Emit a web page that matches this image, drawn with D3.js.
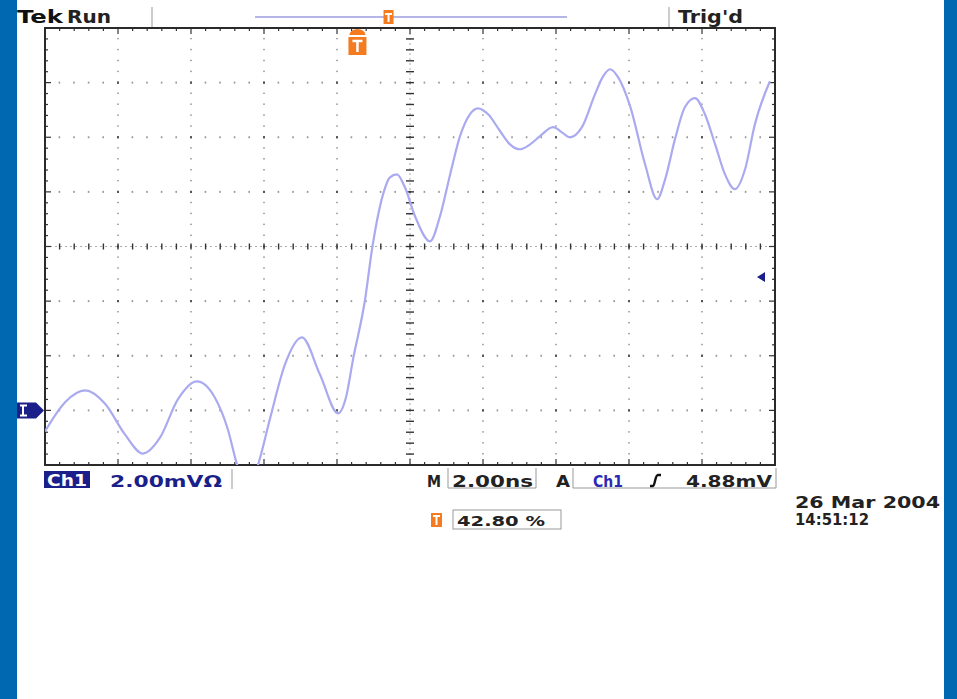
<!DOCTYPE html>
<html>
<head>
<meta charset="utf-8">
<script src="https://cdn.jsdelivr.net/npm/d3@7"></script>
<style>
  html, body { margin: 0; padding: 0; background: #fff; }
  svg { display: block; }
  text { font-family: "DejaVu Sans", Verdana, sans-serif; font-weight: bold; }
</style>
</head>
<body>
<svg id="scope" width="957" height="699"></svg>
<script>
// ---- Ch1 acquisition: time (ns from left edge of screen) and voltage (mV)
const timeNs = [0, 0.55, 1.10, 1.64, 2.19, 2.68, 3.15, 3.64, 4.16, 4.66, 5.01, 5.26, 5.55, 5.84,
  6.16, 6.58, 7.04, 7.53, 8.03, 8.25, 8.44, 8.77, 8.96, 9.26, 9.45, 9.64, 9.86, 10.14, 10.55,
  10.82, 11.10, 11.37, 11.64, 11.86, 12.14, 12.47, 12.74, 13.01, 13.29, 13.56, 13.92, 14.19,
  14.38, 14.71, 15.07, 15.29, 15.48, 15.70, 16.03, 16.44, 16.77, 16.99, 17.26, 17.53, 17.81,
  18.08, 18.36, 18.63, 18.90, 19.18, 19.45, 19.86];
const ch1mV = [-0.77, 0.30, 0.73, 0.25, -0.88, -1.58, -1.00, 0.40, 1.06, 0.45, -0.70, -1.98, -2.9, -1.98,
  -0.33, 1.70, 2.67, 1.32, -0.11, 0.50, 1.87, 4.07, 5.90, 7.90, 8.53, 8.64, 8.17, 7.10, 6.19,
  7.10, 8.64, 10.04, 10.84, 11.06, 10.84, 10.22, 9.74, 9.56, 9.74, 10.04, 10.37, 10.15,
  10.0, 10.37, 11.58, 12.23, 12.49, 12.20, 11.14, 9.01, 7.73, 8.46, 9.93, 11.10, 11.43,
  10.84, 9.74, 8.64, 8.10, 8.83, 10.48, 12.05];

// ---- Settings
const timeDomain = [0, 20];     // 10 div x 2.00 ns
const voltDomain = [-2, 14];    // 8 div x 2.00 mV, ground one div above bottom
const hDivs = 10, vDivs = 8, subDivs = 5;
const triggerLevelmV = 4.88;
const triggerPosPct = 42.80;

// ---- Readout texts
const headerLabels = ["Tek", "Run", "Trig'd"];
const chLabel = "Ch1";
const voltsPerDiv = "2.00mV\u03A9";
const timePerDiv = "2.00ns";
const trigLevelText = "4.88mV";
const trigPosText = "42.80 %";
const dateLines = ["26 Mar 2004", "14:51:12"];

const svg = d3.select("#scope");
const NAVY = "#1b1f8a", ORANGE = "#f47b20", FRAME_BLUE = "#0067b1";
const TRACE = "#aaaaf0";

// side bands
svg.append("rect").attr("x", 0).attr("y", 0).attr("width", 17).attr("height", 699).attr("fill", FRAME_BLUE);
svg.append("rect").attr("x", 944).attr("y", 0).attr("width", 13).attr("height", 699).attr("fill", FRAME_BLUE);

// screen geometry
const L = 45, R = 775, T = 28, B = 465;
const x = d3.scaleLinear().domain(timeDomain).range([L, R]);
const y = d3.scaleLinear().domain(voltDomain).range([B, T]);
const divW = (R - L) / hDivs, divH = (B - T) / vDivs;
const cx = L + divW * hDivs / 2, cy = T + divH * vDivs / 2;

const grid = svg.append("g");

// dotted graticule
for (let i = 1; i < hDivs; i++) {
  if (i === hDivs / 2) continue;
  const gx = L + i * divW;
  for (let k = 1; k < vDivs * subDivs; k++) {
    const gy = T + k * divH / subDivs;
    const major = k % subDivs === 0;
    grid.append("rect").attr("x", gx - 1).attr("y", gy - 1)
      .attr("width", 2).attr("height", major ? 2 : 1.4)
      .attr("fill", major ? "#555" : "#aaa");
  }
}
for (let j = 1; j < vDivs; j++) {
  if (j === vDivs / 2) continue;
  const gy = T + j * divH;
  for (let k = 1; k < hDivs * subDivs; k++) {
    const gx = L + k * divW / subDivs;
    const major = k % subDivs === 0;
    grid.append("rect").attr("x", gx - 1).attr("y", gy - 1)
      .attr("width", major ? 2 : 1.6).attr("height", 2)
      .attr("fill", major ? "#555" : "#999");
  }
}

// center crosshair with ticks
grid.append("line").attr("x1", cx).attr("x2", cx).attr("y1", T).attr("y2", B)
  .attr("stroke", "#aaa").attr("stroke-width", 1).attr("stroke-dasharray", "2,3");
grid.append("line").attr("x1", L).attr("x2", R).attr("y1", cy).attr("y2", cy)
  .attr("stroke", "#aaa").attr("stroke-width", 1).attr("stroke-dasharray", "2,3");
for (let k = 1; k < vDivs * subDivs; k++) {
  const gy = T + k * divH / subDivs;
  grid.append("line").attr("x1", cx - 4).attr("x2", cx + 4).attr("y1", gy).attr("y2", gy)
    .attr("stroke", "#333").attr("stroke-width", 1.4);
}
for (let k = 1; k < hDivs * subDivs; k++) {
  const gx = L + k * divW / subDivs;
  grid.append("line").attr("x1", gx).attr("x2", gx).attr("y1", cy - 3).attr("y2", cy + 3)
    .attr("stroke", "#333").attr("stroke-width", 1.4);
}

// frame with ruler ticks
for (let k = 1; k < hDivs * subDivs; k++) {
  const gx = L + k * divW / subDivs;
  const len = k % subDivs === 0 ? 6 : 3;
  grid.append("line").attr("x1", gx).attr("x2", gx).attr("y1", T).attr("y2", T + len).attr("stroke", "#333").attr("stroke-width", 1.2);
  grid.append("line").attr("x1", gx).attr("x2", gx).attr("y1", B).attr("y2", B - len).attr("stroke", "#333").attr("stroke-width", 1.2);
}
for (let k = 1; k < vDivs * subDivs; k++) {
  const gy = T + k * divH / subDivs;
  const len = k % subDivs === 0 ? 6 : 3;
  grid.append("line").attr("x1", L).attr("x2", L + len).attr("y1", gy).attr("y2", gy).attr("stroke", "#333").attr("stroke-width", 1.2);
  grid.append("line").attr("x1", R).attr("x2", R - len).attr("y1", gy).attr("y2", gy).attr("stroke", "#333").attr("stroke-width", 1.2);
}
grid.append("rect").attr("x", L).attr("y", T).attr("width", R - L).attr("height", B - T)
  .attr("fill", "none").attr("stroke", "#2a2a2a").attr("stroke-width", 2);

// waveform
svg.append("clipPath").attr("id", "screen")
  .append("rect").attr("x", L).attr("y", T).attr("width", R - L).attr("height", B - T);
const pts = timeNs.map((t, i) => [t, ch1mV[i]]);
const line = d3.line().x(d => x(d[0])).y(d => y(d[1])).curve(d3.curveMonotoneX);
svg.append("path").attr("d", line(pts)).attr("clip-path", "url(#screen)")
  .attr("fill", "none").attr("stroke", TRACE).attr("stroke-width", 2.2).attr("stroke-linejoin", "round");

// ground reference marker (Ch1)
const gy0 = y(0);
svg.append("path")
  .attr("d", `M17,${gy0 - 8} L36,${gy0 - 8} L44,${gy0} L36,${gy0 + 8} L17,${gy0 + 8} Z`)
  .attr("fill", NAVY);
svg.append("path").attr("d", `M23,${gy0 - 5} V${gy0 + 5} M20,${gy0 - 5} H27 M20,${gy0 + 5} H27`)
  .attr("stroke", "#fff").attr("stroke-width", 2);

// trigger level marker
const ty = y(triggerLevelmV);
svg.append("path").attr("d", `M757,${ty} L765,${ty - 5} L765,${ty + 5} Z`).attr("fill", NAVY);

// trigger position marker under top edge
const tpx = L + (R - L) * triggerPosPct / 100;
const tMark = svg.append("g");
tMark.append("path").attr("d", `M${tpx - 8},35 A8,6 0 0 1 ${tpx + 8},35 Z`).attr("fill", ORANGE);
tMark.append("rect").attr("x", tpx - 9).attr("y", 37).attr("width", 18).attr("height", 18).attr("fill", ORANGE);
tMark.append("path").attr("d", `M${tpx - 5},41 H${tpx + 5} M${tpx},41 V52`)
  .attr("stroke", "#fff").attr("stroke-width", 2.5);

// header
svg.append("text").attr("x", 17).attr("y", 23).attr("font-size", 18).attr("fill", "#111")
  .attr("textLength", 46).attr("lengthAdjust", "spacingAndGlyphs").text(headerLabels[0]);
svg.append("text").attr("x", 67).attr("y", 23).attr("font-size", 17).attr("fill", "#222")
  .attr("textLength", 44).attr("lengthAdjust", "spacingAndGlyphs").text(headerLabels[1]);
svg.append("line").attr("x1", 152).attr("x2", 152).attr("y1", 7).attr("y2", 27).attr("stroke", "#999").attr("stroke-width", 1);
svg.append("line").attr("x1", 669).attr("x2", 669).attr("y1", 7).attr("y2", 27).attr("stroke", "#999").attr("stroke-width", 1);
svg.append("text").attr("x", 678).attr("y", 23).attr("font-size", 17).attr("fill", "#222")
  .attr("textLength", 65).attr("lengthAdjust", "spacingAndGlyphs").text(headerLabels[2]);

// record view bar
const barL = 255, barR = 567;
svg.append("line").attr("x1", barL).attr("x2", barR).attr("y1", 17).attr("y2", 17)
  .attr("stroke", "#9d9de0").attr("stroke-width", 1.5);
const rbx = barL + (barR - barL) * triggerPosPct / 100;
svg.append("rect").attr("x", rbx - 5).attr("y", 10).attr("width", 10).attr("height", 14).attr("fill", ORANGE);
svg.append("path").attr("d", `M${rbx - 3.5},14 H${rbx + 3.5} M${rbx},14 V22`).attr("stroke", "#fff").attr("stroke-width", 2);

// status line
const sy = 487;
svg.append("rect").attr("x", 44).attr("y", 471).attr("width", 46).attr("height", 17).attr("fill", NAVY);
svg.append("text").attr("x", 47).attr("y", sy - 1).attr("font-size", 15).attr("fill", "#fff")
  .attr("textLength", 40).attr("lengthAdjust", "spacingAndGlyphs").text(chLabel);
svg.append("text").attr("x", 110).attr("y", sy).attr("font-size", 15).attr("fill", NAVY)
  .attr("textLength", 112).attr("lengthAdjust", "spacingAndGlyphs").text(voltsPerDiv);
svg.append("line").attr("x1", 232).attr("x2", 232).attr("y1", 469).attr("y2", 489).attr("stroke", "#999");

svg.append("text").attr("x", 427).attr("y", sy).attr("font-size", 15).attr("fill", "#222")
  .attr("textLength", 14).attr("lengthAdjust", "spacingAndGlyphs").text("M");
svg.append("path").attr("d", "M448,468 V488 H536 V468").attr("fill", "none").attr("stroke", "#999");
svg.append("text").attr("x", 452).attr("y", sy).attr("font-size", 15).attr("fill", "#222")
  .attr("textLength", 81).attr("lengthAdjust", "spacingAndGlyphs").text(timePerDiv);

svg.append("text").attr("x", 556).attr("y", sy).attr("font-size", 15).attr("fill", "#222")
  .attr("textLength", 14).attr("lengthAdjust", "spacingAndGlyphs").text("A");
svg.append("path").attr("d", "M573,468 V488 H776 V468").attr("fill", "none").attr("stroke", "#999");
svg.append("text").attr("x", 593).attr("y", sy).attr("font-size", 15).attr("fill", "#2a2ab8")
  .attr("textLength", 30).attr("lengthAdjust", "spacingAndGlyphs").text(chLabel);
// rising-edge slope symbol
svg.append("path").attr("d", "M650,486 L653,486 C655,486 655,475 658,475 L661,475")
  .attr("fill", "none").attr("stroke", "#111").attr("stroke-width", 2.4);
svg.append("text").attr("x", 686).attr("y", sy).attr("font-size", 15).attr("fill", "#222")
  .attr("textLength", 86).attr("lengthAdjust", "spacingAndGlyphs").text(trigLevelText);

// trigger position readout
svg.append("rect").attr("x", 431).attr("y", 513).attr("width", 11).attr("height", 14).attr("fill", ORANGE);
svg.append("path").attr("d", "M433,516 H440 M436.5,516 V525").attr("stroke", "#fff").attr("stroke-width", 2);
svg.append("rect").attr("x", 453).attr("y", 510).attr("width", 108).attr("height", 19)
  .attr("fill", "none").attr("stroke", "#999");
svg.append("text").attr("x", 457).attr("y", 526).attr("font-size", 14).attr("fill", "#222")
  .attr("textLength", 88).attr("lengthAdjust", "spacingAndGlyphs").text(trigPosText);

// date / time stamp
svg.append("text").attr("x", 795).attr("y", 508).attr("font-size", 15).attr("fill", "#222")
  .attr("textLength", 145).attr("lengthAdjust", "spacingAndGlyphs").text(dateLines[0]);
svg.append("text").attr("x", 795).attr("y", 525).attr("font-size", 15).attr("fill", "#222")
  .attr("textLength", 74).attr("lengthAdjust", "spacingAndGlyphs").text(dateLines[1]);
</script>
</body>
</html>
